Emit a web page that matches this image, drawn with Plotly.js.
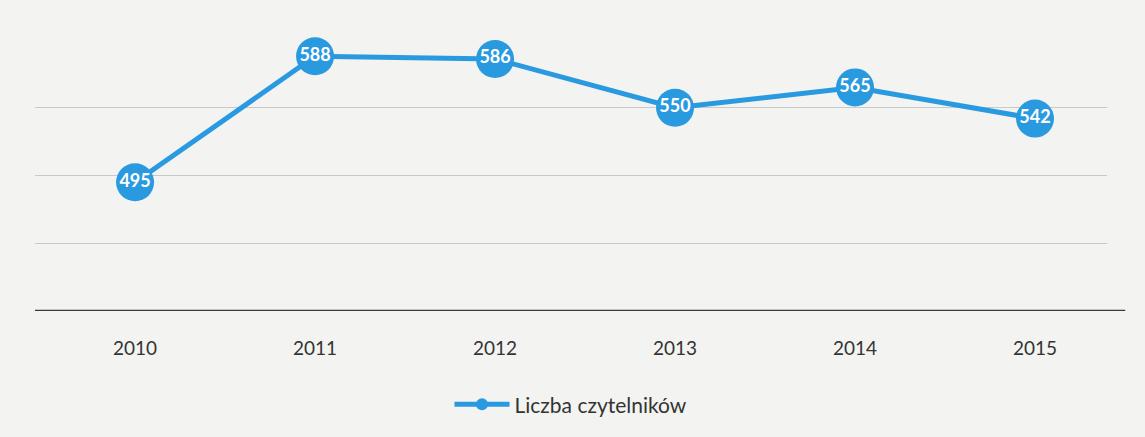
<!DOCTYPE html>
<html>
<head>
<meta charset="utf-8">
<script src="https://cdn.plot.ly/plotly-3.0.1.min.js"></script>
<style>
html,body{margin:0;padding:0;background:#f3f3f1;}
#chart{width:1145px;height:437px;}
</style>
</head>
<body>
<div id="chart"></div>
<script>
const years = ['2010', '2011', '2012', '2013', '2014', '2015'];
const readers = [495, 588, 586, 550, 565, 542];
const seriesName = 'Liczba czytelników';

const trace = {
  x: years,
  y: readers,
  name: seriesName,
  type: 'scatter',
  mode: 'lines+markers+text',
  text: readers.map(String),
  textposition: 'middle center',
  textfont: {family: 'Lato, Open Sans, sans-serif', size: 18, color: '#ffffff', weight: 'bold'},
  line: {color: '#2a9ae0', width: 5},
  marker: {color: '#2a9ae0', size: 38},
  cliponaxis: false,
  hoverinfo: 'skip'
};

const layout = {
  width: 1145,
  height: 437,
  paper_bgcolor: '#f3f3f1',
  plot_bgcolor: 'rgba(0,0,0,0)',
  margin: {l: 35, r: 38, t: 40, b: 124},
  font: {family: 'Lato, Open Sans, sans-serif', color: '#333333'},
  xaxis: {
    type: 'category',
    range: [-0.556, 5.4],
    showgrid: false,
    zeroline: false,
    showline: false,
    ticks: '',
    tickfont: {size: 19, color: '#333333'},
    ticklabelstandoff: 24
  },
  yaxis: {
    range: [400, 600],
    dtick: 50,
    showticklabels: false,
    showgrid: true,
    gridcolor: '#c9c9c9',
    gridwidth: 1,
    zeroline: false,
    showline: false,
    fixedrange: true
  },
  shapes: [{
    type: 'line', xref: 'paper', yref: 'y',
    x0: 0, x1: 1.017, y0: 400, y1: 400,
    line: {color: '#3a3a3a', width: 2.5}
  }],
  showlegend: true,
  legend: {
    orientation: 'h',
    x: 0.5, xanchor: 'center',
    y: -0.27, yanchor: 'top',
    font: {size: 21, color: '#333333'},
    itemsizing: 'constant',
    itemwidth: 55,
    bgcolor: 'rgba(0,0,0,0)'
  }
};

Plotly.newPlot('chart', [trace], layout, {displayModeBar: false, staticPlot: true});
</script>
</body>
</html>
